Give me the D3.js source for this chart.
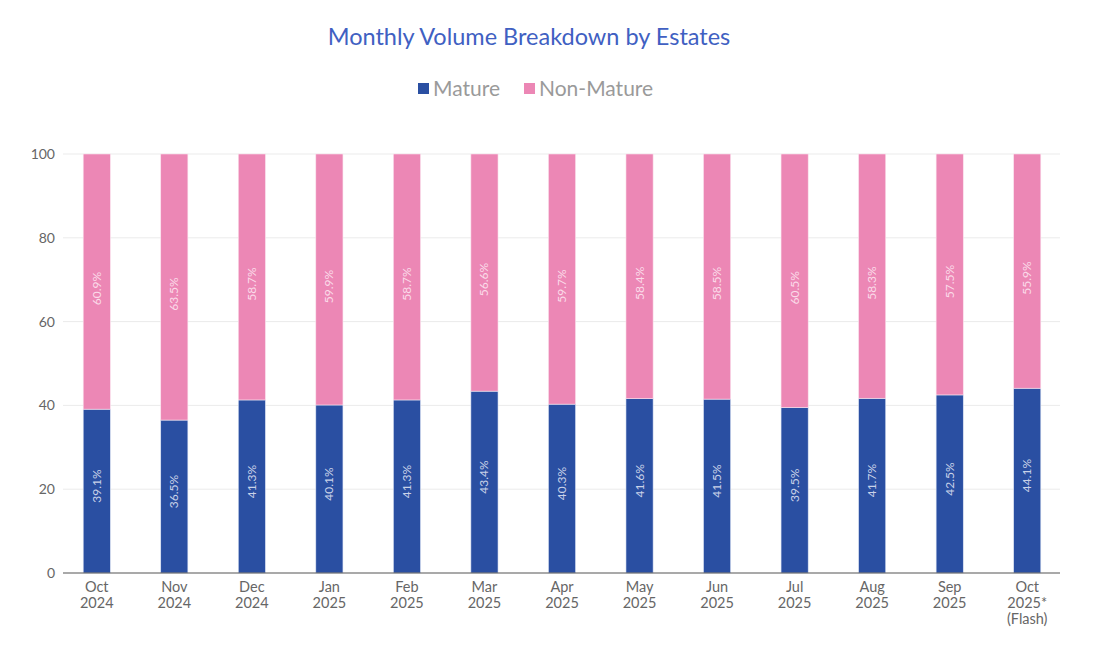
<!DOCTYPE html>
<html>
<head>
<meta charset="utf-8">
<script src="https://cdnjs.cloudflare.com/ajax/libs/d3/7.8.5/d3.min.js"></script>
<style>
  body { margin: 0; background: #fff; }
  svg { font-family: Lato, "Open Sans", sans-serif; }
</style>
</head>
<body>
<div id="chart"></div>
<script>
var months = ["Oct", "Nov", "Dec", "Jan", "Feb", "Mar", "Apr", "May", "Jun", "Jul", "Aug", "Sep", "Oct"];
var years = ["2024", "2024", "2024", "2025", "2025", "2025", "2025", "2025", "2025", "2025", "2025", "2025", "2025*"];
var mature = [39.1, 36.5, 41.3, 40.1, 41.3, 43.4, 40.3, 41.6, 41.5, 39.5, 41.7, 42.5, 44.1];
var nonMature = [60.9, 63.5, 58.7, 59.9, 58.7, 56.6, 59.7, 58.4, 58.5, 60.5, 58.3, 57.5, 55.9];
var yTicks = [0, 20, 40, 60, 80, 100];

var width = 1098, height = 662;
var blue = "#2a4fa2", pink = "#ec87b5";

var svg = d3.select("#chart").append("svg")
  .attr("width", width)
  .attr("height", height);

var idx = d3.range(months.length);

var x = d3.scaleBand()
  .domain(idx)
  .range([58, 1066])
  .paddingInner(0.65)
  .paddingOuter(0.325);

var y = d3.scaleLinear()
  .domain([0, 100])
  .range([573, 154]);

//title
svg.append("text")
  .attr("x", 529).attr("y", 45)
  .attr("text-anchor", "middle")
  .attr("fill", "#4060c2")
  .attr("font-size", 23.5)
  .text("Monthly Volume Breakdown by Estates");

//legend
var legend = [["Mature", blue, 418], ["Non-Mature", pink, 524]];
legend.forEach(function(l) {
  svg.append("rect")
    .attr("x", l[2]).attr("y", 83)
    .attr("width", 11).attr("height", 11)
    .attr("fill", l[1]);
  svg.append("text")
    .attr("x", l[2] + 15).attr("y", 96)
    .attr("fill", "#9a9a9a")
    .attr("font-size", 21)
    .text(l[0]);
});

//gridlines
svg.append("g").selectAll("line")
  .data(yTicks.slice(1))
  .enter().append("line")
  .attr("x1", 63).attr("x2", 1060)
  .attr("y1", function(d) { return y(d); })
  .attr("y2", function(d) { return y(d); })
  .attr("stroke", "#ebebeb");

//y axis
var yAxis = svg.append("g")
  .attr("transform", "translate(63,0)")
  .call(d3.axisLeft(y).tickValues(yTicks).tickSize(0).tickPadding(8));
yAxis.select(".domain").remove();
yAxis.selectAll("text")
  .attr("fill", "#666")
  .attr("font-size", 14)
  .attr("font-family", "Lato, sans-serif");

//bars
var bars = svg.append("g").selectAll("g")
  .data(idx)
  .enter().append("g");

bars.append("rect")
  .attr("x", function(i) { return x(i); })
  .attr("width", x.bandwidth())
  .attr("y", function(i) { return y(mature[i]); })
  .attr("height", function(i) { return y(0) - y(mature[i]); })
  .attr("fill", blue)
  .attr("stroke", "#dfe6f5").attr("stroke-width", 0.6);

bars.append("rect")
  .attr("x", function(i) { return x(i); })
  .attr("width", x.bandwidth())
  .attr("y", function(i) { return y(mature[i] + nonMature[i]); })
  .attr("height", function(i) { return y(mature[i]) - y(mature[i] + nonMature[i]); })
  .attr("fill", pink)
  .attr("stroke", "#fbe3ee").attr("stroke-width", 0.6);

//bar labels, rotated
function addLabel(sel, getMid, shift, colour) {
  sel.append("text")
    .attr("transform", function(i) {
      return "translate(" + (x(i) + x.bandwidth() / 2 + 4) + "," + (y(getMid(i)) + shift) + ") rotate(-90)";
    })
    .attr("text-anchor", "middle")
    .attr("fill", colour)
    .attr("font-size", 12)
    .text(function(i) { return getMid.val(i).toFixed(1) + "%"; });
}
var matMid = function(i) { return mature[i] / 2; };
matMid.val = function(i) { return mature[i]; };
var nonMid = function(i) { return mature[i] + nonMature[i] / 2; };
nonMid.val = function(i) { return nonMature[i]; };
addLabel(bars, matMid, -5, "#c9d2e8");
addLabel(bars, nonMid, 7, "#fbdbe9");

//x axis
svg.append("line")
  .attr("x1", 63).attr("x2", 1060)
  .attr("y1", y(0)).attr("y2", y(0))
  .attr("stroke", "#555").attr("stroke-width", 1.2);

var xl = svg.append("g").selectAll("text")
  .data(idx)
  .enter().append("text")
  .attr("x", function(i) { return x(i) + x.bandwidth() / 2; })
  .attr("y", 592)
  .attr("text-anchor", "middle")
  .attr("fill", "#666")
  .attr("font-size", 14.5);
xl.append("tspan").text(function(i) { return months[i]; });
xl.append("tspan")
  .attr("x", function(i) { return x(i) + x.bandwidth() / 2; })
  .attr("dy", 16)
  .text(function(i) { return years[i]; });
xl.filter(function(i) { return i === idx.length - 1; })
  .append("tspan")
  .attr("x", function(i) { return x(i) + x.bandwidth() / 2; })
  .attr("dy", 16)
  .text("(Flash)");
</script>
</body>
</html>
